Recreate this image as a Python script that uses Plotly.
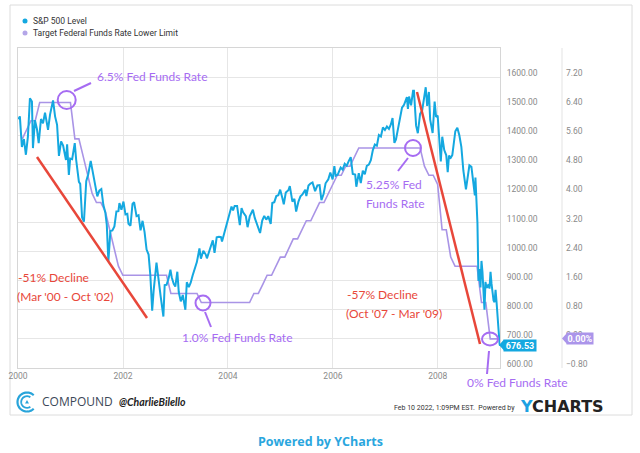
import math
import pandas as pd
import plotly.graph_objects as go

W, H = 640, 453

# ---------------- data ----------------
sp_dates = [
    "2000-01-03", "2000-01-14", "2000-01-28", "2000-02-11", "2000-02-25", "2000-03-10", "2000-03-24", "2000-04-07",
    "2000-04-14", "2000-04-28", "2000-05-12", "2000-05-24", "2000-06-09", "2000-06-23", "2000-07-07", "2000-07-28",
    "2000-08-11", "2000-09-01", "2000-09-15", "2000-09-29", "2000-10-12", "2000-10-27", "2000-11-10", "2000-11-30",
    "2000-12-08", "2000-12-20", "2000-12-29",
    "2001-01-12", "2001-01-30", "2001-02-09", "2001-02-28", "2001-03-09", "2001-03-22", "2001-04-04", "2001-04-20",
    "2001-05-04", "2001-05-21", "2001-06-08", "2001-06-22", "2001-07-06", "2001-07-20", "2001-08-03", "2001-08-17",
    "2001-08-31", "2001-09-10", "2001-09-21", "2001-10-05", "2001-10-19", "2001-11-02", "2001-11-16", "2001-11-30",
    "2001-12-07", "2001-12-21",
    "2002-01-04", "2002-01-18", "2002-01-31", "2002-02-08", "2002-02-22", "2002-03-08", "2002-03-19", "2002-04-05",
    "2002-04-19", "2002-05-03", "2002-05-17", "2002-05-31", "2002-06-14", "2002-06-28", "2002-07-10", "2002-07-23",
    "2002-08-02", "2002-08-22", "2002-09-06", "2002-09-20", "2002-10-09", "2002-10-18", "2002-10-31", "2002-11-15",
    "2002-11-27", "2002-12-06", "2002-12-20", "2002-12-31",
    "2003-01-14", "2003-01-24", "2003-02-07", "2003-02-21", "2003-03-11", "2003-03-21", "2003-04-04", "2003-04-17",
    "2003-04-30", "2003-05-16", "2003-05-30", "2003-06-17", "2003-06-27", "2003-07-14", "2003-07-31", "2003-08-08",
    "2003-08-29", "2003-09-18", "2003-09-30", "2003-10-15", "2003-10-31", "2003-11-14", "2003-11-21", "2003-12-05",
    "2003-12-19", "2003-12-31",
    "2004-01-15", "2004-01-26", "2004-02-06", "2004-02-17", "2004-03-05", "2004-03-24", "2004-04-05", "2004-04-16",
    "2004-05-05", "2004-05-17", "2004-06-01", "2004-06-23", "2004-07-06", "2004-07-22", "2004-08-12", "2004-08-27",
    "2004-09-10", "2004-09-24", "2004-10-08", "2004-10-25", "2004-11-05", "2004-11-19", "2004-12-03", "2004-12-17",
    "2004-12-30",
    "2005-01-14", "2005-01-24", "2005-02-07", "2005-02-25", "2005-03-07", "2005-03-25", "2005-04-08", "2005-04-20",
    "2005-05-06", "2005-05-20", "2005-06-03", "2005-06-23", "2005-06-30", "2005-07-15", "2005-07-29", "2005-08-12",
    "2005-08-30", "2005-09-15", "2005-09-30", "2005-10-13", "2005-10-28", "2005-11-11", "2005-11-30", "2005-12-14",
    "2005-12-30",
    "2006-01-11", "2006-01-20", "2006-02-03", "2006-02-24", "2006-03-10", "2006-03-24", "2006-04-07", "2006-04-21",
    "2006-05-05", "2006-05-19", "2006-06-05", "2006-06-13", "2006-06-30", "2006-07-14", "2006-07-28", "2006-08-11",
    "2006-08-25", "2006-09-08", "2006-09-22", "2006-10-06", "2006-10-20", "2006-11-03", "2006-11-17", "2006-12-01",
    "2006-12-15", "2006-12-29",
    "2007-01-12", "2007-01-26", "2007-02-09", "2007-02-20", "2007-02-27", "2007-03-05", "2007-03-16", "2007-03-30",
    "2007-04-13", "2007-04-27", "2007-05-11", "2007-05-31", "2007-06-07", "2007-06-15", "2007-06-29", "2007-07-13",
    "2007-07-19", "2007-08-03", "2007-08-15", "2007-08-31", "2007-09-14", "2007-09-28", "2007-10-09", "2007-10-19",
    "2007-10-31", "2007-11-09", "2007-11-26", "2007-12-10", "2007-12-20", "2007-12-31",
    "2008-01-11", "2008-01-22", "2008-02-01", "2008-02-15", "2008-02-29", "2008-03-10", "2008-03-19", "2008-03-31",
    "2008-04-11", "2008-04-25", "2008-05-02", "2008-05-16", "2008-05-30", "2008-06-13", "2008-06-27", "2008-07-15",
    "2008-07-25", "2008-08-08", "2008-08-22", "2008-09-05", "2008-09-15", "2008-09-19", "2008-09-29", "2008-10-03",
    "2008-10-10", "2008-10-17", "2008-10-24", "2008-10-31", "2008-11-07", "2008-11-14", "2008-11-21", "2008-11-28",
    "2008-12-05", "2008-12-12", "2008-12-19", "2008-12-26",
    "2009-01-02", "2009-01-09", "2009-01-16", "2009-01-23", "2009-01-30", "2009-02-06", "2009-02-13", "2009-02-20",
    "2009-02-27", "2009-03-06", "2009-03-09",
]
sp_values = [
    1455, 1465, 1360, 1387, 1333, 1395, 1527, 1516, 1356, 1452, 1421, 1373, 1456, 1441, 1478, 1419,
    1471, 1520, 1465, 1436, 1329, 1379, 1365, 1315, 1369, 1264, 1320,
    1318, 1373, 1315, 1240, 1233, 1117, 1103, 1242, 1266, 1312, 1264, 1226, 1190, 1210, 1215, 1161,
    1134, 1092, 966, 1071, 1073, 1087, 1138, 1139, 1167, 1144,
    1172, 1128, 1130, 1096, 1089, 1164, 1170, 1122, 1125, 1073, 1106, 1067, 1007, 990, 920, 797,
    865, 962, 893, 846, 777, 885, 886, 909, 938, 912, 889, 880,
    931, 861, 829, 851, 800, 895, 878, 893, 917, 946, 964, 1011, 976, 1003, 990, 977,
    1008, 1039, 996, 1049, 1051, 1050, 1035, 1061, 1089, 1112,
    1133, 1155, 1142, 1157, 1157, 1091, 1150, 1135, 1122, 1084, 1121, 1144, 1116, 1094, 1064, 1107,
    1123, 1110, 1122, 1095, 1167, 1170, 1191, 1194, 1213,
    1184, 1163, 1203, 1211, 1225, 1172, 1181, 1138, 1172, 1190, 1197, 1213, 1191, 1227, 1234, 1238,
    1208, 1228, 1229, 1177, 1198, 1235, 1249, 1272, 1248,
    1294, 1261, 1264, 1289, 1282, 1302, 1295, 1311, 1325, 1267, 1265, 1223, 1270, 1236, 1278, 1266,
    1295, 1299, 1314, 1349, 1368, 1364, 1401, 1396, 1427, 1418,
    1430, 1422, 1438, 1459, 1399, 1374, 1386, 1421, 1453, 1495, 1505, 1531, 1491, 1533, 1503, 1553,
    1553, 1433, 1407, 1474, 1485, 1527, 1565, 1501, 1549, 1454, 1408, 1516, 1463, 1468,
    1401, 1310, 1395, 1349, 1331, 1273, 1330, 1323, 1332, 1398, 1414, 1426, 1400, 1360, 1278, 1214,
    1257, 1297, 1292, 1242, 1193, 1255, 1106, 1099, 899, 940, 877, 968, 930, 873, 800, 896,
    876, 879, 888, 873,
    931, 890, 850, 832, 826, 869, 827, 770, 735, 683, 676.53,
]

rate_dates = [d.strftime("%Y-%m-%d") for d in pd.date_range("2000-01-31", "2009-02-28", freq="ME")] + ["2009-03-09"]
rate_values = [
    5.50, 5.75, 6.00, 6.00, 6.50, 6.50, 6.50, 6.50, 6.50, 6.50, 6.50, 6.50,
    5.50, 5.50, 5.00, 4.50, 4.00, 3.75, 3.75, 3.50, 3.00, 2.50, 2.00, 1.75,
    1.75, 1.75, 1.75, 1.75, 1.75, 1.75, 1.75, 1.75, 1.75, 1.75, 1.25, 1.25,
    1.25, 1.25, 1.25, 1.25, 1.25, 1.00, 1.00, 1.00, 1.00, 1.00, 1.00, 1.00,
    1.00, 1.00, 1.00, 1.00, 1.00, 1.25, 1.25, 1.50, 1.75, 1.75, 2.00, 2.25,
    2.25, 2.50, 2.75, 2.75, 3.00, 3.25, 3.25, 3.50, 3.75, 3.75, 4.00, 4.25,
    4.50, 4.50, 4.75, 4.75, 5.00, 5.25, 5.25, 5.25, 5.25, 5.25, 5.25, 5.25,
    5.25, 5.25, 5.25, 5.25, 5.25, 5.25, 5.25, 5.25, 4.75, 4.50, 4.50, 4.25,
    3.00, 3.00, 2.25, 2.00, 2.00, 2.00, 2.00, 2.00, 2.00, 1.00, 1.00, 0.00,
    0.00, 0.00, 0.00,
]

sp_ticks = [600, 700, 800, 900, 1000, 1100, 1200, 1300, 1400, 1500, 1600]
rate_ticks = [-0.8, 0.0, 0.8, 1.6, 2.4, 3.2, 4.0, 4.8, 5.6, 6.4, 7.2]
series_names = ["S&P 500 Level", "Target Federal Funds Rate Lower Limit"]
last_sp_label = "676.53"
last_rate_label = "0.00%"

# ---------------- styling ----------------
BLUE = "#14a8e0"
LAV = "#a994e6"
PURPLE = "#a66cf2"
RED = "#e8473a"
GRID = "#e6e6e6"
TICK = "#8a8a8a"


def px(x):
    return x / W


def py(y):
    return 1 - y / H


fig = go.Figure()
fig.add_trace(go.Scatter(x=rate_dates, y=rate_values, mode="lines", name=series_names[1],
                         line=dict(color=LAV, width=1.6), yaxis="y", showlegend=False,
                         hoverinfo="skip"))
fig.add_trace(go.Scatter(x=sp_dates, y=sp_values, mode="lines", name=series_names[0],
                         line=dict(color=BLUE, width=2), yaxis="y2", showlegend=False))

tickfont = dict(family="Roboto", size=8.5, color=TICK)

fig.update_layout(
    width=W, height=H,
    margin=dict(l=0, r=0, t=0, b=0),
    paper_bgcolor="white", plot_bgcolor="white",
    showlegend=False,
    xaxis=dict(domain=[px(18), px(500)], range=["2000-01-01", "2009-03-09"],
               tickformat="%Y", dtick="M24", tick0="2000-01-01",
               showgrid=True, gridcolor=GRID, gridwidth=1,
               showline=True, mirror=True, linecolor="#d6d6d6", linewidth=1,
               ticks="", tickfont=tickfont, zeroline=False, automargin=False,
               anchor="y"),
    yaxis=dict(domain=[py(368), py(48)], range=[-0.8, 8.0], side="right",
               anchor="free", position=px(562),
               tickvals=rate_ticks, tickformat=".2f", ticksuffix="%",
               showgrid=False, zeroline=False, showline=False, ticks="",
               tickfont=tickfont, ticklabelshift=-4, ticklabelstandoff=3, automargin=False),
    yaxis2=dict(range=[600, 1700], overlaying="y", side="right", anchor="x",
                tickvals=sp_ticks, tickformat=".2f",
                showgrid=True, gridcolor=GRID, gridwidth=1, zeroline=False,
                showline=True, mirror=True, linecolor="#d6d6d6", linewidth=1,
                ticks="", tickfont=tickfont, ticklabelshift=-4, ticklabelstandoff=4, automargin=False),
)

shapes = []
# card
shapes.append(dict(type="rect", xref="paper", yref="paper", x0=px(10), x1=px(632), y0=py(415), y1=py(5),
                   line=dict(color="#dcdcdc", width=1), layer="below"))
# separator between the two right axes
shapes.append(dict(type="line", xref="paper", yref="paper", x0=px(562), x1=px(562), y0=py(368), y1=py(48),
                   line=dict(color="#e3e3e3", width=1), layer="below"))
# red trend lines
for (x0, y0, x1, y1) in [(37, 157, 147, 318), (417, 92, 480, 344)]:
    shapes.append(dict(type="line", xref="paper", yref="paper", x0=px(x0), y0=py(y0), x1=px(x1), y1=py(y1),
                       line=dict(color=RED, width=2.5)))
# purple circles
for (cx, cy, rx, ry) in [(66.7, 100, 9, 9), (203, 303, 7.5, 7.5), (413, 148, 8, 8), (490, 339, 8, 6.5)]:
    shapes.append(dict(type="circle", xref="paper", yref="paper", x0=px(cx - rx), x1=px(cx + rx),
                       y0=py(cy + ry), y1=py(cy - ry), line=dict(color=PURPLE, width=2)))
# purple connectors
for (x0, y0, x1, y1) in [(74, 91, 91, 83), (205, 312, 211, 327), (408, 158, 398, 171), (489, 351, 487, 374)]:
    shapes.append(dict(type="line", xref="paper", yref="paper", x0=px(x0), y0=py(y0), x1=px(x1), y1=py(y1),
                       line=dict(color=PURPLE, width=2)))
# legend dots
for (cy, col) in [(21, BLUE), (33, "#b4a6e8")]:
    shapes.append(dict(type="circle", xref="paper", yref="paper", x0=px(22.5), x1=px(27.5),
                       y0=py(cy + 2.5), y1=py(cy - 2.5), fillcolor=col, line=dict(width=0)))
# last value pointers
shapes.append(dict(type="path", xref="paper", yref="paper",
                   path=f"M {px(499)},{py(345)} L {px(504)},{py(339.5)} L {px(504)},{py(350.5)} Z",
                   fillcolor=BLUE, line=dict(width=0)))
shapes.append(dict(type="path", xref="paper", yref="paper",
                   path=f"M {px(562)},{py(338.5)} L {px(567)},{py(333)} L {px(567)},{py(344)} Z",
                   fillcolor="#ab95ea", line=dict(width=0)))


# compound logo (arcs drawn in pixel size mode)
def arc(r, a0, a1, n=40):
    pts = []
    for i in range(n + 1):
        a = math.radians(a0 + (a1 - a0) * i / n)
        pts.append((r * math.cos(a), r * math.sin(a)))
    return "M " + " L ".join(f"{x:.2f},{y:.2f}" for x, y in pts)


LOGO = "#28a4da"
for r, a0, a1, w in [(9.5, 45, 315, 2.2), (5.8, 55, 305, 1.8)]:
    shapes.append(dict(type="path", xref="paper", yref="paper", xsizemode="pixel", ysizemode="pixel",
                       xanchor=px(27), yanchor=py(402), path=arc(r, a0, a1),
                       line=dict(color=LOGO, width=w)))
shapes.append(dict(type="path", xref="paper", yref="paper", xsizemode="pixel", ysizemode="pixel",
                   xanchor=px(27), yanchor=py(402), path="M -2,-1.6 L 2,-1.6 L 0,2 Z",
                   fillcolor=LOGO, line=dict(width=0)))

fig.update_layout(shapes=shapes)

ann = []


def text(x, y, s, size=12, color="#333", family="Lato", xanchor="left", **kw):
    ann.append(dict(x=px(x), y=py(y), xref="paper", yref="paper", text=s, showarrow=False,
                    xanchor=xanchor, yanchor="middle", font=dict(size=size, color=color, family=family), **kw))


# legend
text(31, 21, series_names[0], size=8.5, color="#333", family="Roboto")
text(31, 33, series_names[1], size=8.5, color="#333", family="Roboto")

# annotations (hand-drawn notes)
HF = "Lato"
text(95, 77, "6.5% Fed Funds Rate", size=12, color=PURPLE, family=HF)
text(180, 337, "1.0% Fed Funds Rate", size=12, color=PURPLE, family=HF)
text(364, 184, "5.25% Fed", size=12, color=PURPLE, family=HF)
text(364, 203, "Funds Rate", size=12, color=PURPLE, family=HF)
text(465, 382, "0% Fed Funds Rate", size=12, color=PURPLE, family=HF)
text(16, 277, "-51% Decline", size=12, color=RED, family=HF)
text(15, 296, "(Mar '00 - Oct '02)", size=12, color=RED, family=HF)
text(345, 294, "-57% Decline", size=12, color=RED, family=HF)
text(344, 313, "(Oct '07 - Mar '09)", size=12, color=RED, family=HF)

# last value labels
text(520, 345, f"<b>{last_sp_label}</b>", size=9, color="white", family="Roboto", xanchor="center",
     bgcolor=BLUE, width=32, height=11, borderpad=0)
text(580, 338.5, f"<b>{last_rate_label}</b>", size=9, color="white", family="Roboto", xanchor="center",
     bgcolor="#ab95ea", width=26, height=11, borderpad=0)

# footer
text(40, 401, "COMPOUND", size=12, color="#3c4858", family="Open Sans")
text(117, 402, "<b><i>@CharlieBilello</i></b>", size=10.5, color="#222", family="Lato")
text(517, 408, "Feb 10 2022, 1:09PM EST.  Powered by", size=7, color="#333",
     family="Liberation Sans Narrow, Roboto", xanchor="right")
text(518, 406, "<b><span style='color:#1da1e2'>Y</span>CHARTS</b>", size=16, color="#222",
     family="DejaVu Sans")
text(320, 441, "<b>Powered by YCharts</b>", size=12.5, color="#2aa6de", family="Open Sans",
     xanchor="center")

fig.update_layout(annotations=ann)

fig.write_html("out.html", config={"displayModeBar": False},
               post_script="document.body.style.margin='0';document.body.style.overflow='hidden';")
